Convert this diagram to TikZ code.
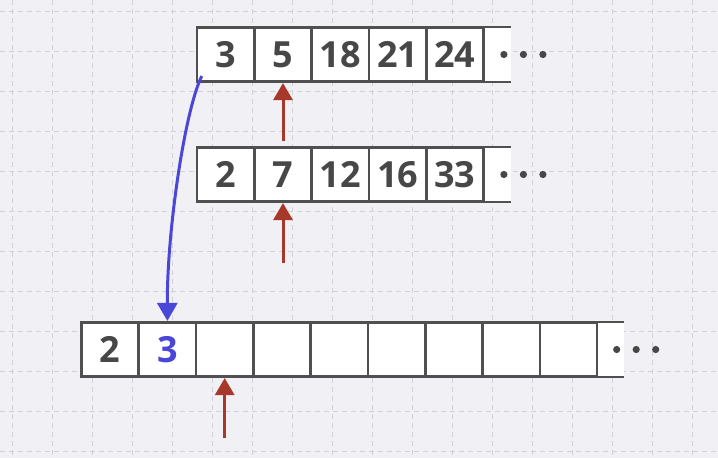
\documentclass[tikz,border=0pt]{standalone}
\usepackage{fontspec}
\setmainfont{Open Sans}
\usetikzlibrary{arrows.meta, positioning, calc}
\definecolor{inkpaper}{HTML}{F1F1F5}
\definecolor{inkgrid}{HTML}{D0D0D6}
\definecolor{inkframe}{HTML}{505050}
\definecolor{inktext}{HTML}{474747}
\definecolor{inkred}{HTML}{A8392A}
\definecolor{inkblue}{HTML}{4A46D8}
\newcommand{\slot}[4]{%
  \node[draw=inkframe, line width=2.6pt, fill=white, inner sep=0pt,
        minimum width=57.3pt, minimum height=54.5pt,
        text=inktext, font=\bfseries\fontsize{36}{40}\selectfont] (#1) at (#2,#3) {#4};}
% open cell at the end of a row, dots after it
\newcommand{\tailslot}[4]{%
  \node[fill=white, inner sep=0pt, minimum width=#4pt, minimum height=54.5pt,
        anchor=west] (#1) at (#2,#3) {};
  \draw[inkframe, line width=2.6pt] (#1.north west) -- (#1.north east)
    (#1.south west) -- (#1.south east);
  \foreach \d in {0,1,2}
    \fill[inktext] ($(#1.east)+(\d*19.5-7,0)$) circle (3.6pt);}

\begin{document}
\begin{tikzpicture}[x=1pt, y=-1pt]
  \fill[inkpaper] (0,0) rectangle (718,458);
  \useasboundingbox (0,0) rectangle (718,458);
  \foreach \gx in {12,52,...,712}
    \draw[inkgrid, line width=1pt, dash pattern=on 5pt off 4pt] (\gx,0) -- (\gx,458);
  \foreach \gy in {11,51,...,451}
    \draw[inkgrid, line width=1pt, dash pattern=on 5pt off 4pt] (0,\gy) -- (718,\gy);

  % first run
  \tailslot{a5}{483.5}{54.5}{27}
  \slot{a0}{225.7}{54.5}{3}
  \slot{a1}{283.0}{54.5}{5}
  \slot{a2}{340.3}{54.5}{18}
  \slot{a3}{397.6}{54.5}{21}
  \slot{a4}{454.9}{54.5}{24}

  % second run
  \tailslot{b5}{483.5}{174.5}{27}
  \slot{b0}{225.7}{174.5}{2}
  \slot{b1}{283.0}{174.5}{7}
  \slot{b2}{340.3}{174.5}{12}
  \slot{b3}{397.6}{174.5}{16}
  \slot{b4}{454.9}{174.5}{33}

  % merged output
  \tailslot{c9}{597.3}{349.5}{26}
  \slot{c0}{110.1}{349.5}{2}
  \slot{c1}{167.4}{349.5}{\textcolor{inkblue}{3}}
  \slot{c2}{224.7}{349.5}{}
  \slot{c3}{282.0}{349.5}{}
  \slot{c4}{339.3}{349.5}{}
  \slot{c5}{396.6}{349.5}{}
  \slot{c6}{453.9}{349.5}{}
  \slot{c7}{511.2}{349.5}{}
  \slot{c8}{568.5}{349.5}{}

  \coordinate (pa) at ($(a1.south)+(0,58)$);
  \coordinate (pb) at ($(b1.south)+(0,60)$);
  \coordinate (pc) at ($(c2.south)+(0,60)$);
  \draw[-{Triangle[width=19pt,length=17pt]}, inkred, line width=3pt] (pa) -- (a1.south);
  \draw[-{Triangle[width=19pt,length=17pt]}, inkred, line width=3pt] (pb) -- (b1.south);
  \draw[-{Triangle[width=19pt,length=17pt]}, inkred, line width=3pt] (pc) -- (c2.south);

  \coordinate (take) at ($(a0.south west)+(6,-7)$);
  \draw[-{Triangle[width=20pt,length=18pt]}, inkblue, line width=3pt]
    (take) .. controls (185,110) and (167,230) .. (c1.north);
\end{tikzpicture}
\end{document}
